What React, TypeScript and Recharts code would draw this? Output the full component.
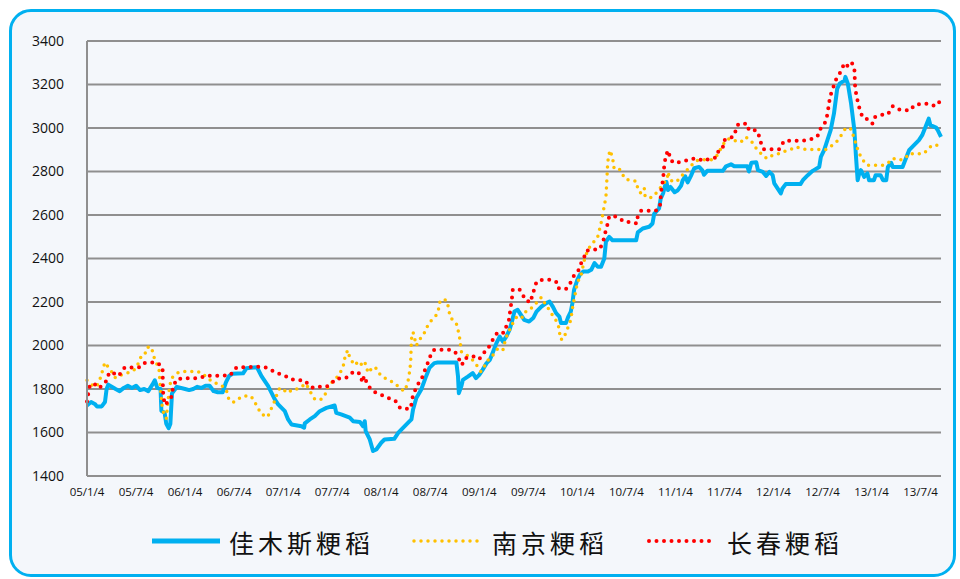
import React from 'react';
import { LineChart, Line, XAxis, YAxis, CartesianGrid } from 'recharts';

// x positions are months since 2005-01-04
const xTickMonths = [0, 6, 12, 18, 24, 30, 36, 42, 48, 54, 60, 66, 72, 78, 84, 90, 96, 102];
const xTickLabels = ['05/1/4', '05/7/4', '06/1/4', '06/7/4', '07/1/4', '07/7/4', '08/1/4', '08/7/4', '09/1/4', '09/7/4', '10/1/4', '10/7/4', '11/1/4', '11/7/4', '12/1/4', '12/7/4', '13/1/4', '13/7/4'];
const yTicks = [1400, 1600, 1800, 2000, 2200, 2400, 2600, 2800, 3000, 3200, 3400];
const seriesNames = ['佳木斯粳稻', '南京粳稻', '长春粳稻'];

const jiamusiMonths = [0, 0.5, 1.0, 1.2, 1.8, 2.2, 2.4, 2.6, 3.5, 4.0, 4.5, 5.0, 5.5, 6.0, 6.5, 7.0, 7.5, 8.0, 8.3, 8.6, 9.0, 9.1, 9.5, 9.7, 10.0, 10.2, 10.4, 10.8, 11.0, 12.0, 12.5, 13.0, 13.5, 14.0, 14.5, 15.0, 15.5, 16.0, 16.6, 17.0, 17.4, 17.8, 19.1, 19.5, 20.8, 21.35, 22.17, 22.98, 23.39, 24.21, 24.61, 25.02, 26.24, 26.57, 26.65, 27.26, 27.87, 28.48, 29.3, 30.3, 30.5, 31.1, 32.15, 32.56, 33.4, 33.78, 33.99, 34.1, 34.6, 35.0, 35.4, 36.0, 36.4, 37.6, 38.1, 38.7, 39.3, 39.7, 39.9, 40.3, 40.9, 41.5, 41.9, 42.5, 42.9, 45.2, 45.4, 45.5, 45.8, 46.0, 46.6, 47.2, 47.6, 48.0, 48.4, 48.9, 49.3, 49.7, 50.1, 50.5, 50.9, 51.3, 51.7, 52.0, 52.3, 52.7, 53.1, 53.5, 54.1, 54.6, 55.0, 55.6, 56.2, 56.6, 57.0, 57.4, 57.8, 58.0, 58.6, 58.9, 59.2, 59.4, 59.6, 60.0, 60.3, 60.7, 61.3, 61.7, 62.1, 62.5, 62.9, 63.3, 63.5, 63.9, 64.3, 67.2, 67.4, 68.0, 68.8, 69.2, 69.4, 70.0, 70.2, 70.5, 70.7, 70.9, 71.1, 71.4, 71.9, 72.3, 72.7, 72.9, 73.2, 73.5, 73.9, 74.3, 74.9, 75.3, 75.5, 75.9, 77.8, 78.2, 78.8, 79.2, 80.8, 81.0, 81.3, 81.9, 82.1, 82.7, 83.1, 83.5, 83.9, 84.1, 84.5, 84.9, 85.1, 85.5, 87.3, 87.6, 88.2, 88.8, 89.6, 89.8, 90.2, 90.6, 91.0, 91.4, 91.8, 92.1, 92.7, 92.8, 93.1, 93.5, 93.9, 94.1, 94.3, 94.5, 94.7, 95.1, 95.5, 95.7, 96.3, 96.5, 97.1, 97.4, 97.8, 98.0, 98.4, 98.6, 99.8, 100.2, 100.6, 101.2, 101.8, 102.2, 102.6, 103.0, 103.2, 103.9, 104.1, 104.5];
const jiamusiPrices = [1725, 1740, 1730, 1720, 1720, 1740, 1800, 1820, 1800, 1790, 1805, 1815, 1805, 1815, 1795, 1800, 1790, 1820, 1840, 1805, 1800, 1700, 1690, 1640, 1620, 1640, 1780, 1800, 1810, 1800, 1795, 1800, 1810, 1805, 1815, 1815, 1790, 1785, 1785, 1830, 1860, 1870, 1872, 1895, 1900, 1859, 1813, 1752, 1729, 1698, 1660, 1637, 1629, 1622, 1642, 1660, 1675, 1698, 1713, 1724, 1690, 1683, 1668, 1652, 1648, 1629, 1652, 1606, 1568, 1515, 1522, 1553, 1568, 1571, 1599, 1622, 1645, 1660, 1706, 1759, 1798, 1859, 1897, 1919, 1922, 1922, 1857, 1781, 1812, 1842, 1857, 1873, 1850, 1865, 1888, 1919, 1934, 1972, 2011, 2041, 2018, 2041, 2072, 2110, 2156, 2164, 2141, 2118, 2110, 2126, 2156, 2179, 2195, 2202, 2179, 2149, 2133, 2103, 2103, 2133, 2156, 2195, 2256, 2302, 2325, 2340, 2340, 2348, 2379, 2362, 2362, 2400, 2477, 2499, 2484, 2484, 2520, 2538, 2546, 2561, 2605, 2630, 2675, 2700, 2730, 2752, 2715, 2729, 2705, 2714, 2735, 2760, 2778, 2750, 2780, 2815, 2821, 2805, 2785, 2803, 2803, 2824, 2833, 2824, 2824, 2800, 2840, 2842, 2806, 2798, 2780, 2798, 2783, 2745, 2722, 2699, 2722, 2742, 2742, 2760, 2783, 2803, 2821, 2867, 2898, 2944, 2990, 3066, 3181, 3204, 3219, 3235, 3204, 3112, 2990, 2867, 2760, 2791, 2806, 2775, 2791, 2760, 2760, 2783, 2783, 2760, 2760, 2821, 2840, 2821, 2821, 2860, 2898, 2921, 2944, 2967, 3005, 3043, 3013, 3002, 2990, 2959];

const nanjingMonths = [0, 0.57, 1.18, 1.71, 2.0, 2.2, 2.6, 3.0, 3.4, 3.8, 4.2, 4.85, 5.46, 5.87, 6.3, 6.7, 7.1, 7.4, 7.9, 8.1, 8.4, 8.8, 9.0, 9.2, 9.45, 9.7, 9.9, 10.1, 10.35, 11.0, 11.6, 13.6, 14.2, 14.8, 15.4, 16.05, 16.7, 17.1, 17.3, 17.8, 18.3, 18.8, 19.6, 20.1, 20.5, 20.9, 21.4, 22.1, 22.4, 22.8, 23.1, 23.3, 23.6, 24.0, 24.6, 25.1, 25.8, 26.3, 26.7, 27.1, 27.5, 27.9, 28.6, 29.1, 29.3, 29.7, 30.3, 30.9, 31.4, 31.6, 31.9, 32.1, 32.4, 32.8, 33.2, 33.7, 34.0, 34.4, 35.0, 35.5, 35.8, 36.4, 37.0, 37.6, 38.3, 38.8, 39.2, 39.4, 39.6, 39.7, 39.9, 40.3, 40.7, 41.1, 41.5, 41.7, 42.2, 42.7, 43.0, 43.1, 43.5, 44.0, 44.2, 44.4, 44.7, 45.2, 45.4, 45.6, 45.7, 45.8, 46.2, 47.0, 47.8, 48.2, 48.6, 49.1, 49.5, 49.9, 50.3, 50.9, 51.2, 51.5, 51.9, 52.2, 52.6, 53.2, 53.5, 54.2, 54.7, 55.2, 55.6, 55.9, 56.3, 56.8, 57.2, 57.6, 57.8, 57.9, 58.3, 58.6, 58.9, 59.2, 59.4, 59.6, 59.8, 60.0, 60.5, 60.9, 61.3, 61.7, 62.1, 62.5, 62.9, 63.2, 63.5, 63.6, 63.7, 63.8, 64.0, 64.3, 64.5, 65.1, 65.4, 65.8, 66.4, 67.2, 67.4, 67.8, 68.2, 68.3, 69.1, 69.8, 70.4, 71.0, 71.1, 71.3, 71.7, 72.3, 72.8, 73.4, 73.9, 74.3, 74.7, 75.1, 76.4, 77.1, 77.9, 78.3, 78.8, 79.2, 80.0, 80.6, 81.3, 81.6, 82.1, 82.7, 83.2, 83.9, 84.7, 85.5, 86.1, 86.8, 88.0, 90.4, 91.2, 91.7, 92.3, 92.8, 93.2, 93.6, 93.8, 94.1, 94.4, 94.8, 95.1, 95.4, 97.5, 98.2, 98.6, 99.4, 100.1, 100.6, 101.4, 102.4, 103.4, 104.3];
const nanjingPrices = [1840, 1820, 1810, 1857, 1900, 1922, 1900, 1880, 1853, 1853, 1865, 1873, 1880, 1891, 1919, 1957, 1962, 1992, 1992, 1957, 1926, 1896, 1800, 1720, 1677, 1665, 1740, 1810, 1850, 1873, 1880, 1880, 1868, 1850, 1831, 1824, 1810, 1788, 1758, 1738, 1745, 1762, 1770, 1765, 1742, 1713, 1683, 1671, 1698, 1729, 1759, 1782, 1805, 1798, 1782, 1798, 1801, 1810, 1825, 1805, 1775, 1752, 1752, 1767, 1798, 1821, 1844, 1866, 1912, 1954, 1978, 1951, 1928, 1909, 1928, 1908, 1923, 1874, 1902, 1892, 1870, 1851, 1840, 1828, 1805, 1790, 1821, 1859, 1920, 2030, 2061, 2000, 2027, 2050, 2070, 2095, 2118, 2138, 2161, 2195, 2213, 2207, 2179, 2138, 2118, 2100, 2072, 2034, 2003, 1972, 1962, 1942, 1903, 1880, 1903, 1934, 1949, 1965, 1988, 1980, 2026, 2057, 2087, 2110, 2133, 2126, 2152, 2164, 2187, 2202, 2222, 2202, 2179, 2149, 2126, 2103, 2072, 2029, 2029, 2060, 2087, 2118, 2170, 2210, 2248, 2287, 2330, 2400, 2440, 2463, 2480, 2501, 2561, 2622, 2683, 2752, 2829, 2867, 2898, 2866, 2813, 2813, 2798, 2767, 2760, 2756, 2721, 2698, 2721, 2683, 2680, 2706, 2737, 2767, 2798, 2767, 2752, 2760, 2782, 2805, 2828, 2836, 2851, 2854, 2854, 2874, 2928, 2948, 2951, 2943, 2935, 2958, 2940, 2920, 2897, 2874, 2859, 2875, 2883, 2895, 2901, 2913, 2901, 2901, 2921, 2936, 2967, 2997, 3002, 2990, 2959, 2928, 2890, 2860, 2844, 2829, 2829, 2844, 2860, 2852, 2860, 2883, 2880, 2883, 2921, 2921];

const changchunMonths = [0, 0.2, 0.37, 0.9, 1.4, 2.0, 2.4, 2.6, 3.1, 3.6, 4.2, 4.6, 5.5, 6.5, 7.0, 7.9, 8.6, 8.9, 9.25, 9.3, 9.5, 9.9, 10.35, 10.55, 10.96, 12.0, 13.8, 14.4, 17.5, 18.3, 21.3, 22.1, 22.8, 23.4, 24.2, 24.8, 25.6, 26.6, 27.1, 27.7, 28.4, 29.3, 29.9, 30.4, 31.7, 32.3, 32.8, 33.4, 33.7, 33.9, 34.1, 34.4, 34.7, 35.4, 36.2, 36.8, 37.6, 37.9, 38.3, 38.8, 39.4, 39.7, 39.9, 40.3, 40.7, 41.1, 41.5, 41.9, 42.1, 42.5, 44.3, 45.0, 45.4, 45.7, 45.9, 46.1, 46.8, 47.4, 48.0, 48.5, 49.0, 49.3, 49.7, 50.0, 50.5, 51.0, 51.3, 51.6, 51.8, 52.0, 52.1, 52.9, 53.3, 53.6, 54.3, 54.5, 54.8, 55.0, 55.7, 56.6, 57.4, 57.6, 58.6, 59.1, 59.5, 59.9, 60.3, 60.5, 60.8, 61.1, 61.7, 62.7, 63.1, 63.3, 63.5, 63.7, 63.9, 64.5, 65.2, 65.7, 66.6, 67.3, 67.4, 67.8, 69.6, 70.1, 70.2, 70.3, 70.5, 70.6, 70.7, 70.9, 71.2, 71.3, 71.8, 72.6, 73.4, 74.1, 74.7, 75.5, 76.2, 77.0, 77.3, 77.8, 77.9, 78.7, 79.3, 79.4, 79.8, 80.8, 81.0, 81.9, 82.2, 82.5, 82.8, 84.7, 85.3, 87.5, 88.2, 88.8, 89.4, 89.6, 90.1, 90.5, 90.6, 90.8, 90.9, 91.2, 91.6, 92.1, 92.7, 93.2, 93.6, 93.9, 94.0, 94.4, 94.9, 95.6, 96.1, 96.3, 96.9, 98.0, 98.6, 99.0, 99.8, 100.8, 101.2, 102.1, 103.0, 103.8, 104.3];
const changchunPrices = [1742, 1790, 1819, 1824, 1804, 1819, 1839, 1865, 1880, 1860, 1873, 1899, 1899, 1900, 1919, 1922, 1922, 1911, 1896, 1788, 1727, 1740, 1765, 1811, 1845, 1850, 1850, 1860, 1862, 1900, 1902, 1897, 1882, 1871, 1862, 1847, 1840, 1840, 1821, 1805, 1810, 1810, 1825, 1847, 1851, 1871, 1882, 1870, 1830, 1860, 1840, 1821, 1798, 1782, 1770, 1759, 1749, 1739, 1713, 1713, 1706, 1729, 1775, 1805, 1836, 1859, 1905, 1935, 1965, 1980, 1980, 1972, 1949, 1922, 1911, 1937, 1949, 1949, 1937, 1965, 1980, 2003, 2029, 2050, 2064, 2057, 2087, 2110, 2164, 2218, 2256, 2259, 2237, 2210, 2198, 2237, 2264, 2294, 2302, 2302, 2294, 2264, 2259, 2284, 2317, 2332, 2356, 2382, 2402, 2435, 2441, 2442, 2469, 2500, 2531, 2558, 2594, 2595, 2584, 2568, 2568, 2561, 2599, 2619, 2619, 2637, 2680, 2721, 2767, 2813, 2844, 2882, 2897, 2859, 2839, 2844, 2851, 2859, 2859, 2848, 2859, 2864, 2897, 2909, 2943, 2951, 2971, 3004, 3020, 3020, 2989, 2990, 2967, 2928, 2902, 2902, 2941, 2941, 2944, 2951, 2962, 2990, 3010, 3039, 3069, 3109, 3143, 3173, 3219, 3250, 3299, 3281, 3299, 3273, 3180, 3105, 3048, 3039, 3020, 3048, 3059, 3063, 3100, 3089, 3082, 3082, 3105, 3112, 3112, 3100, 3120];

const toData = (months: number[], prices: number[]) => months.map((m, i) => ({ m, v: prices[i] }));
const jiamusiData = toData(jiamusiMonths, jiamusiPrices);
const nanjingData = toData(nanjingMonths, nanjingPrices);
const changchunData = toData(changchunMonths, changchunPrices);

const BLUE = '#00b0f0';
const YELLOW = '#ffc000';
const RED = '#ff0000';
const GRID = '#8f8f8f';

export default function App() {
  const legendFont = '"Noto Sans CJK SC", "Noto Sans", sans-serif';
  return (
    <div style={{ position: 'absolute', left: 0, top: 0, width: 960, height: 579, background: '#ffffff', overflow: 'hidden' }}>
      <div
        style={{
          position: 'absolute',
          left: 9,
          top: 9,
          width: 947,
          height: 568,
          boxSizing: 'border-box',
          border: `3px solid ${BLUE}`,
          borderRadius: 22,
          background: '#f4f7fb',
        }}
      />
      <div style={{ position: 'absolute', left: 0, top: 0 }}>
        <LineChart width={960} height={579} margin={{ top: 41, right: 19, bottom: 73, left: 27 }}>
          <CartesianGrid vertical={false} stroke={GRID} strokeWidth={2} />
          <XAxis
            type="number"
            dataKey="m"
            domain={[0, 104.5]}
            ticks={xTickMonths}
            interval={0}
            tickFormatter={(v: number) => xTickLabels[xTickMonths.indexOf(v)] ?? ''}
            tickLine={false}
            tickSize={0}
            tickMargin={12}
            height={30}
            axisLine={{ stroke: GRID, strokeWidth: 2 }}
            tick={{ fontSize: 11.5, fill: '#111', fontFamily: '"Open Sans", sans-serif' }}
          />
          <YAxis
            type="number"
            domain={[1400, 3400]}
            ticks={yTicks}
            interval={0}
            tickLine={false}
            tickSize={0}
            tickMargin={23}
            width={60}
            axisLine={{ stroke: GRID, strokeWidth: 2 }}
            tick={{ fontSize: 14, fill: '#111', fontFamily: '"Open Sans", sans-serif' }}
          />
          <Line data={jiamusiData} dataKey="v" name={seriesNames[0]} type="linear" stroke={BLUE} strokeWidth={4} strokeLinejoin="round" dot={false} isAnimationActive={false} />
          <Line data={nanjingData} dataKey="v" name={seriesNames[1]} type="linear" stroke={YELLOW} strokeWidth={3.5} strokeDasharray="0 7" strokeLinecap="round" dot={false} isAnimationActive={false} />
          <Line data={changchunData} dataKey="v" name={seriesNames[2]} type="linear" stroke={RED} strokeWidth={4} strokeDasharray="0 7.5" strokeLinecap="round" dot={false} isAnimationActive={false} />
        </LineChart>
      </div>
      <svg width={960} height={579} style={{ position: 'absolute', left: 0, top: 0, pointerEvents: 'none' }}>
        <line x1={152} y1={541} x2={220} y2={541} stroke={BLUE} strokeWidth={5} />
        <text x={229} y={553} fontSize={25} letterSpacing={4} fontFamily={legendFont} fill="#111">{seriesNames[0]}</text>
        <line x1={414} y1={541} x2={478} y2={541} stroke={YELLOW} strokeWidth={3.5} strokeDasharray="0 7" strokeLinecap="round" />
        <text x={492} y={553} fontSize={25} letterSpacing={4} fontFamily={legendFont} fill="#111">{seriesNames[1]}</text>
        <line x1={649} y1={541} x2={715} y2={541} stroke={RED} strokeWidth={4} strokeDasharray="0 7.5" strokeLinecap="round" />
        <text x={727} y={553} fontSize={25} letterSpacing={4} fontFamily={legendFont} fill="#111">{seriesNames[2]}</text>
      </svg>
    </div>
  );
}
